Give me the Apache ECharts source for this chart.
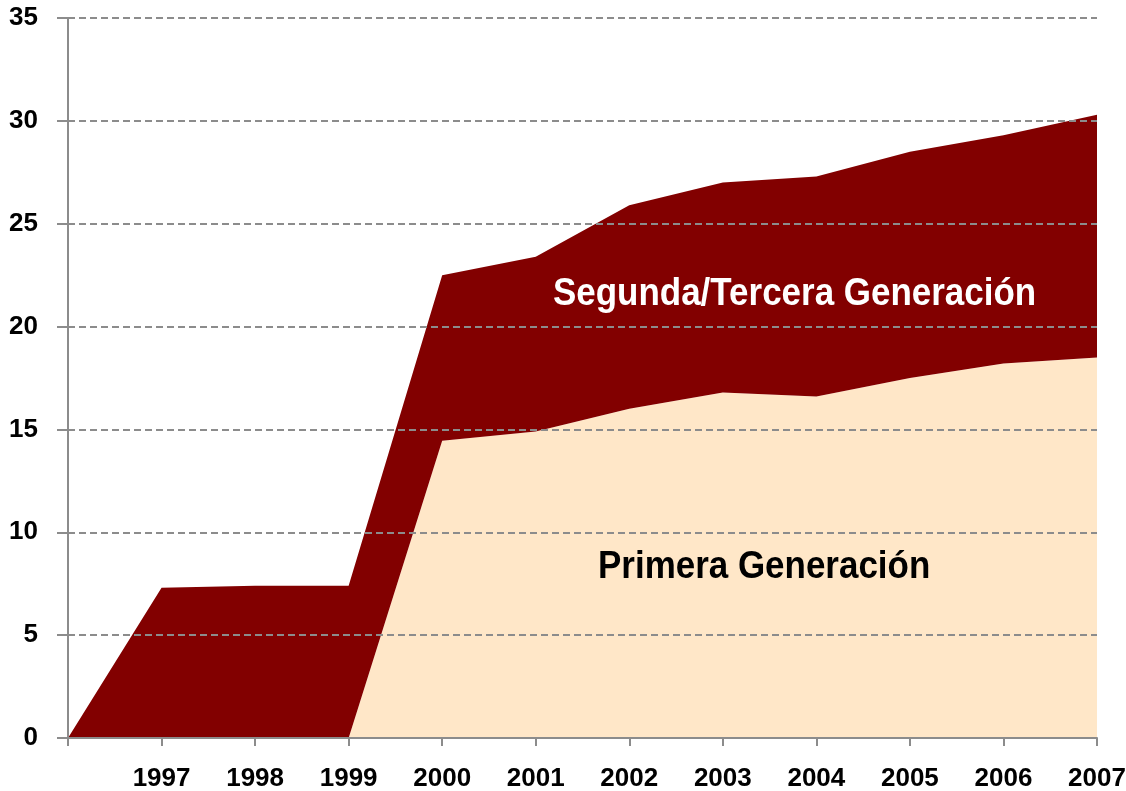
<!DOCTYPE html>
<html><head><meta charset="utf-8">
<script src="https://cdn.jsdelivr.net/npm/echarts@6/dist/echarts.min.js"></script>
<style>html,body{margin:0;padding:0;background:#fff}#c{width:1126px;height:791px}</style>
</head><body><div id="c"></div>
<script>
const categories = ['', '1997', '1998', '1999', '2000', '2001', '2002', '2003', '2004', '2005', '2006', '2007'];
const primera = [0, 0, 0, 0, 14.45, 14.9, 16.0, 16.8, 16.6, 17.5, 18.2, 18.5];
const segunda = [0, 7.3, 7.4, 7.4, 8.05, 8.5, 9.9, 10.2, 10.7, 11.0, 11.1, 11.8];
const yTicks = [0, 5, 10, 15, 20, 25, 30, 35];
const FONT = '"Liberation Sans Narrow", "Arial Narrow", "Liberation Sans", Arial, sans-serif';
const chart = echarts.init(document.getElementById('c'));
chart.setOption({
  animation: false,
  grid: {left: 68, right: 29, top: 18, bottom: 53, containLabel: false, outerBoundsMode: 'none'},
  xAxis: {
    type: 'category', data: categories, boundaryGap: false,
    axisLine: {lineStyle: {color: '#8c8c8c', width: 2}},
    axisTick: {show: true, interval: 0, length: 8, lineStyle: {color: '#8c8c8c', width: 2}},
    axisLabel: {interval: 0, margin: 28, color: '#000', fontFamily: FONT, fontWeight: 'bold', fontSize: 26},
    splitLine: {show: false}, z: 5
  },
  yAxis: {
    type: 'value', min: yTicks[0], max: yTicks[yTicks.length - 1], interval: 5,
    axisLine: {show: true, lineStyle: {color: '#8c8c8c', width: 2}},
    axisTick: {show: true, length: 11, lineStyle: {color: '#8c8c8c', width: 2}},
    axisLabel: {margin: 30, color: '#000', fontFamily: FONT, fontWeight: 'bold', fontSize: 26},
    splitLine: {show: true, lineStyle: {color: '#8c8c8c', type: [7, 4], width: 2}}, z: 5
  },
  series: [
    {name: 'Primera Generación', type: 'line', stack: 't', data: primera, symbol: 'none',
      lineStyle: {width: 0}, areaStyle: {color: '#FFE7C8', opacity: 1}, z: 3},
    {name: 'Segunda/Tercera Generación', type: 'line', stack: 't', data: segunda, symbol: 'none',
      lineStyle: {width: 0}, areaStyle: {color: '#820000', opacity: 1}, z: 3}
  ],
  graphic: [
    {type: 'text', x: 553, y: 276, scaleX: 0.92, z: 10, style: {text: 'Segunda/Tercera Generación', fill: '#fff', font: 'bold 38px ' + FONT}},
    {type: 'text', x: 598, y: 549, scaleX: 0.92, z: 10, style: {text: 'Primera Generación', fill: '#000', font: 'bold 38px ' + FONT}}
  ]
});
</script></body></html>
